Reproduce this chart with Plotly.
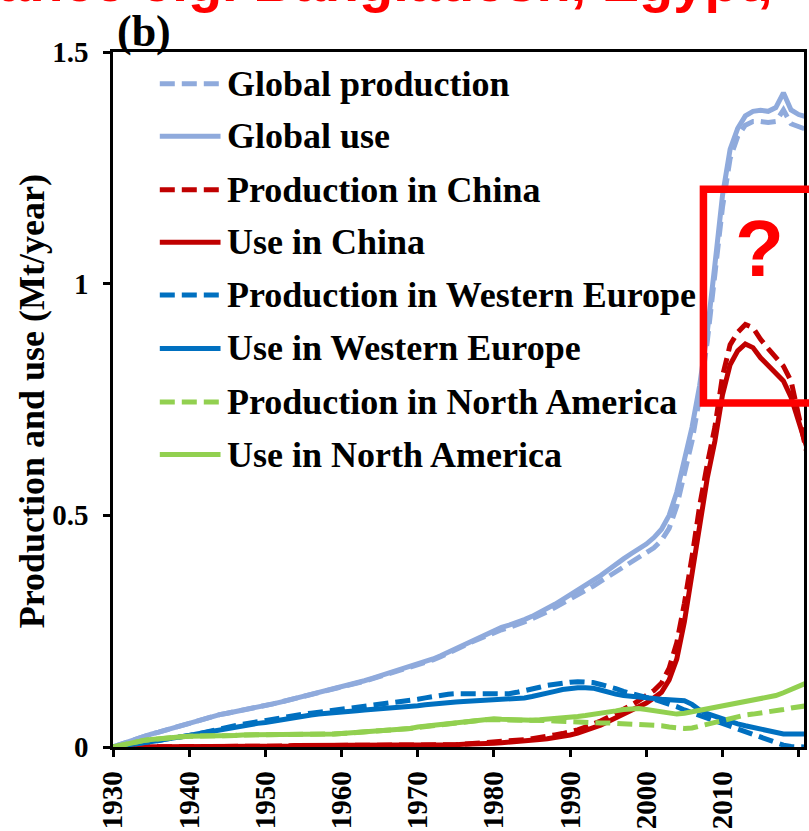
import plotly.graph_objects as go

# ---- data (Mt/year) ----
years = list(range(1930, 2022))

global_production = [
    0.000, 0.006, 0.012, 0.018, 0.023, 0.028, 0.032, 0.037, 0.041, 0.046,
    0.050, 0.056, 0.061, 0.066, 0.070, 0.073, 0.076, 0.079, 0.082, 0.086,
    0.089, 0.093, 0.097, 0.101, 0.105, 0.109, 0.113, 0.117, 0.121, 0.125,
    0.128, 0.133, 0.138, 0.142, 0.147, 0.152, 0.157, 0.162, 0.167, 0.172,
    0.177, 0.183, 0.188, 0.195, 0.202, 0.210, 0.218, 0.226, 0.233, 0.240,
    0.247, 0.253, 0.258, 0.263, 0.270, 0.277, 0.284, 0.292, 0.301, 0.311,
    0.320, 0.329, 0.338, 0.347, 0.357, 0.368, 0.380, 0.390, 0.400, 0.409,
    0.417, 0.430, 0.446, 0.472, 0.520, 0.592, 0.660, 0.755, 0.875, 1.020,
    1.165, 1.270, 1.318, 1.342, 1.350, 1.350, 1.348, 1.350, 1.375, 1.345,
    1.338, 1.333,
]
global_use = [
    0.000, 0.006, 0.012, 0.018, 0.023, 0.028, 0.032, 0.037, 0.041, 0.046,
    0.050, 0.056, 0.061, 0.066, 0.070, 0.073, 0.076, 0.079, 0.082, 0.086,
    0.089, 0.093, 0.097, 0.101, 0.105, 0.109, 0.113, 0.117, 0.121, 0.125,
    0.129, 0.134, 0.139, 0.143, 0.148, 0.153, 0.158, 0.163, 0.168, 0.173,
    0.178, 0.184, 0.190, 0.197, 0.205, 0.213, 0.221, 0.229, 0.237, 0.245,
    0.252, 0.258, 0.263, 0.268, 0.275, 0.282, 0.290, 0.299, 0.308, 0.318,
    0.328, 0.338, 0.348, 0.358, 0.370, 0.382, 0.395, 0.406, 0.417, 0.427,
    0.438, 0.452, 0.470, 0.500, 0.550, 0.620, 0.690, 0.780, 0.895, 1.040,
    1.190, 1.290, 1.335, 1.362, 1.372, 1.374, 1.372, 1.380, 1.412, 1.375,
    1.365, 1.360,
]
china_production = [
    0.000, 0.000, 0.001, 0.001, 0.002, 0.002, 0.002, 0.002, 0.002, 0.002,
    0.002, 0.002, 0.002, 0.002, 0.002, 0.002, 0.002, 0.002, 0.002, 0.002,
    0.002, 0.002, 0.002, 0.002, 0.003, 0.003, 0.003, 0.003, 0.003, 0.003,
    0.003, 0.003, 0.003, 0.003, 0.004, 0.004, 0.004, 0.004, 0.004, 0.004,
    0.004, 0.004, 0.005, 0.005, 0.005, 0.005, 0.006, 0.007, 0.008, 0.009,
    0.010, 0.011, 0.012, 0.014, 0.016, 0.018, 0.020, 0.023, 0.026, 0.029,
    0.032, 0.037, 0.043, 0.049, 0.056, 0.064, 0.072, 0.081, 0.090, 0.100,
    0.110, 0.122, 0.138, 0.170, 0.225, 0.310, 0.410, 0.520, 0.610, 0.690,
    0.800, 0.868, 0.895, 0.912, 0.905, 0.880, 0.860, 0.840, 0.822, 0.790,
    0.720, 0.640,
]
china_use = [
    0.000, 0.000, 0.001, 0.001, 0.002, 0.002, 0.002, 0.002, 0.002, 0.002,
    0.002, 0.002, 0.002, 0.002, 0.002, 0.002, 0.002, 0.002, 0.002, 0.002,
    0.002, 0.002, 0.002, 0.002, 0.003, 0.003, 0.003, 0.003, 0.003, 0.003,
    0.003, 0.003, 0.003, 0.003, 0.004, 0.004, 0.004, 0.004, 0.004, 0.004,
    0.004, 0.004, 0.005, 0.005, 0.005, 0.005, 0.006, 0.006, 0.007, 0.007,
    0.008, 0.009, 0.010, 0.011, 0.012, 0.014, 0.016, 0.018, 0.020, 0.023,
    0.026, 0.030, 0.035, 0.040, 0.047, 0.055, 0.063, 0.071, 0.078, 0.086,
    0.095, 0.106, 0.118, 0.145, 0.190, 0.270, 0.370, 0.480, 0.580, 0.660,
    0.760, 0.825, 0.855, 0.870, 0.862, 0.840, 0.822, 0.805, 0.790, 0.755,
    0.700, 0.650,
]
we_production = [
    0.000, 0.002, 0.005, 0.008, 0.010, 0.012, 0.014, 0.017, 0.019, 0.022,
    0.025, 0.028, 0.032, 0.036, 0.040, 0.043, 0.046, 0.049, 0.052, 0.055,
    0.057, 0.060, 0.063, 0.066, 0.069, 0.071, 0.073, 0.075, 0.078, 0.080,
    0.082, 0.084, 0.086, 0.088, 0.090, 0.093, 0.095, 0.097, 0.099, 0.101,
    0.103, 0.106, 0.109, 0.112, 0.114, 0.115, 0.115, 0.115, 0.114, 0.114,
    0.114, 0.114, 0.115, 0.118, 0.121, 0.125, 0.129, 0.133, 0.136, 0.139,
    0.140, 0.141, 0.141, 0.139, 0.135, 0.131, 0.126, 0.120, 0.115, 0.111,
    0.107, 0.103, 0.098, 0.093, 0.087, 0.080, 0.074, 0.068, 0.062, 0.057,
    0.051, 0.045, 0.039, 0.032, 0.026, 0.020, 0.014, 0.008, 0.004, 0.001,
    0.000, 0.000,
]
we_use = [
    0.000, 0.002, 0.005, 0.008, 0.010, 0.012, 0.014, 0.017, 0.019, 0.022,
    0.025, 0.028, 0.031, 0.035, 0.038, 0.041, 0.043, 0.046, 0.048, 0.051,
    0.053, 0.056, 0.059, 0.062, 0.065, 0.067, 0.069, 0.071, 0.072, 0.074,
    0.075, 0.077, 0.078, 0.080, 0.081, 0.083, 0.084, 0.085, 0.087, 0.088,
    0.089, 0.091, 0.093, 0.095, 0.096, 0.097, 0.098, 0.099, 0.099, 0.100,
    0.100, 0.101, 0.102, 0.104, 0.106, 0.109, 0.112, 0.116, 0.120, 0.124,
    0.127, 0.128, 0.128, 0.127, 0.123, 0.118, 0.114, 0.111, 0.109, 0.108,
    0.107, 0.105, 0.103, 0.102, 0.101, 0.100, 0.092, 0.080, 0.072, 0.066,
    0.060, 0.055, 0.050, 0.046, 0.042, 0.038, 0.034, 0.030, 0.028, 0.028,
    0.028, 0.028,
]
na_production = [
    0.000, 0.004, 0.008, 0.011, 0.014, 0.016, 0.018, 0.020, 0.021, 0.022,
    0.023, 0.023, 0.024, 0.024, 0.025, 0.025, 0.025, 0.026, 0.026, 0.026,
    0.026, 0.026, 0.026, 0.027, 0.027, 0.027, 0.027, 0.027, 0.028, 0.028,
    0.029, 0.030, 0.031, 0.032, 0.033, 0.034, 0.035, 0.036, 0.038, 0.040,
    0.042, 0.044, 0.046, 0.048, 0.050, 0.052, 0.054, 0.056, 0.058, 0.059,
    0.059, 0.059, 0.058, 0.058, 0.057, 0.057, 0.057, 0.057, 0.056, 0.055,
    0.054, 0.053, 0.053, 0.053, 0.052, 0.052, 0.051, 0.051, 0.050, 0.050,
    0.049, 0.048, 0.046, 0.043, 0.041, 0.040, 0.041, 0.045, 0.050, 0.055,
    0.059, 0.063, 0.066, 0.069, 0.071, 0.073, 0.075, 0.078, 0.081, 0.084,
    0.087, 0.089,
]
na_use = [
    0.000, 0.004, 0.008, 0.011, 0.014, 0.016, 0.018, 0.020, 0.021, 0.022,
    0.023, 0.023, 0.024, 0.024, 0.025, 0.025, 0.025, 0.026, 0.026, 0.026,
    0.026, 0.026, 0.026, 0.027, 0.027, 0.027, 0.027, 0.027, 0.028, 0.028,
    0.029, 0.030, 0.031, 0.032, 0.033, 0.034, 0.035, 0.036, 0.038, 0.040,
    0.043, 0.045, 0.047, 0.049, 0.051, 0.053, 0.055, 0.057, 0.059, 0.060,
    0.061, 0.060, 0.059, 0.058, 0.058, 0.058, 0.059, 0.060, 0.061, 0.062,
    0.064, 0.066, 0.068, 0.070, 0.072, 0.075, 0.078, 0.081, 0.083, 0.083,
    0.081, 0.079, 0.076, 0.073, 0.071, 0.073, 0.076, 0.080, 0.083, 0.086,
    0.089, 0.093, 0.096, 0.099, 0.101, 0.104, 0.107, 0.111, 0.117, 0.124,
    0.131, 0.138,
]

x_ticks = [1930, 1940, 1950, 1960, 1970, 1980, 1990, 2000, 2010, 2020]
y_ticks = [0, 0.5, 1, 1.5]
y_tick_labels = ["0", "0.5", "1", "1.5"]

LIGHT_BLUE = "#8FAADC"
RED = "#C00000"
BLUE = "#0070C0"
GREEN = "#92D050"
DASH = "15px,7px"

series = [
    ("Global production", global_production, LIGHT_BLUE, DASH),
    ("Global use", global_use, LIGHT_BLUE, "solid"),
    ("Production in China", china_production, RED, DASH),
    ("Use in China", china_use, RED, "solid"),
    ("Production in Western Europe", we_production, BLUE, DASH),
    ("Use in Western Europe", we_use, BLUE, "solid"),
    ("Production in North America", na_production, GREEN, DASH),
    ("Use in North America", na_use, GREEN, "solid"),
]

# ---- figure geometry (pixels) ----
W, H = 809, 831
ML, MR, MT, MB = 113, 2, 52, 78
PW, PH = W - ML - MR, H - MT - MB


def px(x):
    return (x - ML) / PW


def py(y):
    return (H - MB - y) / PH


SERIF = "Liberation Serif"
SANS = "Liberation Sans"

fig = go.Figure()
for name, vals, color, dash in series:
    fig.add_trace(go.Scatter(
        x=years, y=vals, mode="lines", name=name,
        line=dict(color=color, width=5, dash=dash),
        showlegend=False,
    ))

shapes = []
annotations = []

# hand-drawn legend with long line samples
legend_y = [84, 137, 191, 244, 297, 351, 405, 458]
for (name, _, color, dash), ly in zip(series, legend_y):
    shapes.append(dict(
        type="line", xref="paper", yref="paper",
        x0=px(160), x1=px(221), y0=py(ly), y1=py(ly),
        line=dict(color=color, width=5, dash=dash),
    ))
    annotations.append(dict(
        text=name, xref="paper", yref="paper",
        x=px(225), y=py(ly), xanchor="left", yanchor="middle",
        showarrow=False,
        font=dict(family=SERIF, size=36, color="black", weight="bold"),
    ))

# highlight box with question mark
shapes.append(dict(
    type="rect", xref="paper", yref="paper",
    x0=px(706), x1=px(880), y0=py(406), y1=py(190.5),
    line=dict(color="#FF0000", width=7.5), fillcolor="rgba(0,0,0,0)",
))
annotations.append(dict(
    text="?", xref="paper", yref="paper", x=px(762), y=py(250),
    xanchor="center", yanchor="middle", showarrow=False,
    font=dict(family=SANS, size=80, color="#FF0000", weight="bold"),
))

# panel label
annotations.append(dict(
    text="(b)", xref="paper", yref="paper", x=px(115), y=py(31),
    xanchor="left", yanchor="middle", showarrow=False,
    font=dict(family=SERIF, size=44, color="black", weight="bold"),
))

# heading line running across the top
annotations.append(dict(
    text="ance e.g. Bangladesh, Egypt,", xref="paper", yref="paper",
    x=px(778), y=py(15), xanchor="right", yanchor="bottom", showarrow=False,
    font=dict(family=SANS, size=56, color="#FF0000", weight="bold"),
))

# y-axis title
annotations.append(dict(
    text="Production and use (Mt/year)", xref="paper", yref="paper",
    x=px(32), y=py(404), xanchor="center", yanchor="middle",
    textangle=-90, showarrow=False,
    font=dict(family=SERIF, size=36, color="black", weight="bold"),
))

fig.update_layout(
    width=W, height=H,
    margin=dict(l=ML, r=MR, t=MT, b=MB, pad=0),
    paper_bgcolor="white", plot_bgcolor="white",
    shapes=shapes, annotations=annotations,
    showlegend=False,
)
fig.update_xaxes(
    range=[1930, 2020.7], tickvals=x_ticks, ticktext=[str(v) for v in x_ticks],
    tickangle=-90, ticks="outside", ticklen=7, tickwidth=2.5, tickcolor="black",
    showline=True, linecolor="black", linewidth=2.5, mirror=True,
    showgrid=False, zeroline=False, ticklabelstandoff=3,
    tickfont=dict(family=SERIF, size=29, color="black", weight="bold"),
)
fig.update_yaxes(
    range=[0, 1.5], tickvals=y_ticks, ticktext=y_tick_labels,
    ticks="outside", ticklen=7, tickwidth=2.5, tickcolor="black",
    showline=True, linecolor="black", linewidth=2.5, mirror=True,
    showgrid=False, zeroline=False, ticklabelstandoff=9,
    tickfont=dict(family=SERIF, size=29, color="black", weight="bold"),
)

fig.write_html("out.html")
